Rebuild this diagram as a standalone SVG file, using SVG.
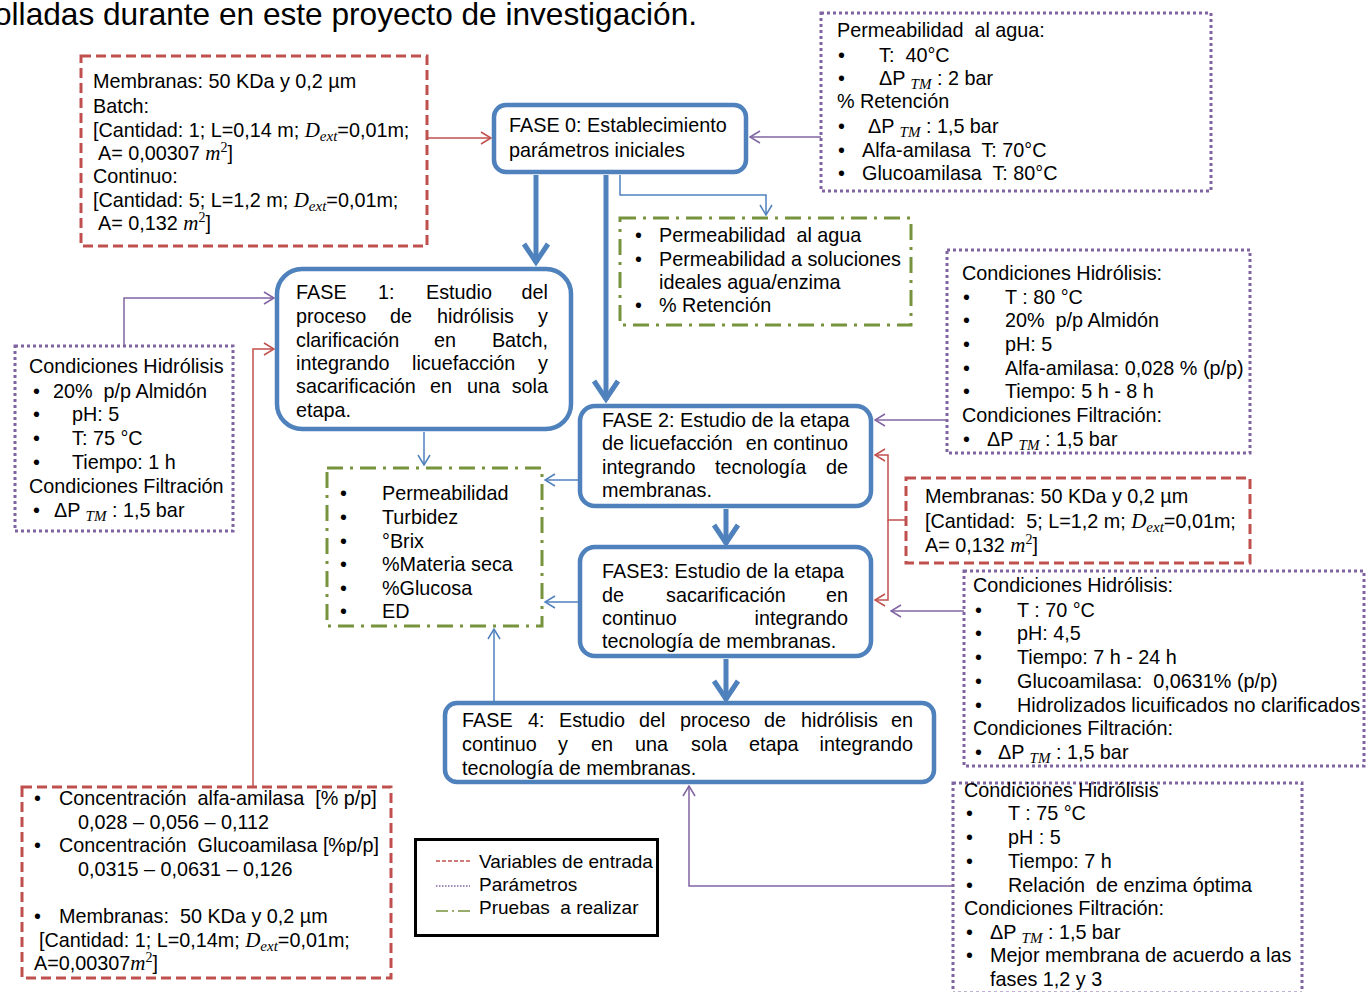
<svg xmlns="http://www.w3.org/2000/svg" width="1367" height="992" viewBox="0 0 1367 992">
<style>
text{font-family:"Liberation Sans",Arial,sans-serif;font-size:19.8px;fill:#000;white-space:pre}
.m{font-family:"Liberation Serif","Times New Roman",serif;font-style:italic;font-size:21px}
.s{font-size:15px}
.sup{font-family:"Liberation Serif","Times New Roman",serif;font-size:14px}
.title{font-size:32px}
.lg{font-size:19px}
.red{fill:#fff;stroke:#C0504D;stroke-width:3;stroke-dasharray:10 5}
.pur{fill:#fff;stroke:#8064A2;stroke-width:3;stroke-dasharray:3 3}
.grn{fill:#fff;stroke:#77933C;stroke-width:3;stroke-dasharray:16 7 3 7}
.phase{fill:#fff;stroke:#4F81BD;stroke-width:4.5}
.cr{fill:none;stroke:#C0504D;stroke-width:1.5}
.cp{fill:none;stroke:#8064A2;stroke-width:1.5}
.cb{fill:none;stroke:#4F81BD;stroke-width:1.5}
.ct{fill:none;stroke:#4F81BD;stroke-width:5}
.e{text-anchor:end}
</style>
<defs>
<marker id="aRed" viewBox="0 0 12 14" refX="11" refY="7" markerWidth="12" markerHeight="14" orient="auto" markerUnits="userSpaceOnUse"><path d="M1,1 L11,7 L1,13" fill="none" stroke="#C0504D" stroke-width="1.5"/></marker>
<marker id="aPur" viewBox="0 0 12 14" refX="11" refY="7" markerWidth="12" markerHeight="14" orient="auto" markerUnits="userSpaceOnUse"><path d="M1,1 L11,7 L1,13" fill="none" stroke="#8064A2" stroke-width="1.5"/></marker>
<marker id="aBlue" viewBox="0 0 12 14" refX="11" refY="7" markerWidth="12" markerHeight="14" orient="auto" markerUnits="userSpaceOnUse"><path d="M1,1 L11,7 L1,13" fill="none" stroke="#4F81BD" stroke-width="1.5"/></marker>
<marker id="aThick" viewBox="0 0 26 30" refX="22" refY="15" markerWidth="26" markerHeight="30" orient="auto" markerUnits="userSpaceOnUse"><path d="M3,3 L21,15 L3,27" fill="none" stroke="#4F81BD" stroke-width="5"/></marker>
</defs>
<rect x="0" y="0" width="1367" height="992" fill="#fff"/>

<text class="title" x="-6" y="25" textLength="703" lengthAdjust="spacingAndGlyphs">olladas durante en este proyecto de investigación.</text>

<g id="connectors">
<path class="cr" d="M428,138 H491" marker-end="url(#aRed)"/>
<path class="cp" d="M821,137 H750" marker-end="url(#aPur)"/>
<path class="ct" d="M536,175 V263" marker-end="url(#aThick)"/>
<path class="ct" d="M606,175 V400" marker-end="url(#aThick)"/>
<path class="ct" d="M726,509 V544" marker-end="url(#aThick)"/>
<path class="ct" d="M726,659 V700" marker-end="url(#aThick)"/>
<path class="cb" d="M620,175 V195 H766 V215" marker-end="url(#aBlue)"/>
<path class="cb" d="M424,432 V465" marker-end="url(#aBlue)"/>
<path class="cb" d="M579,480 H545" marker-end="url(#aBlue)"/>
<path class="cb" d="M579,602 H545" marker-end="url(#aBlue)"/>
<path class="cb" d="M494,702 V629" marker-end="url(#aBlue)"/>
<path class="cp" d="M124,346 V298 H274" marker-end="url(#aPur)"/>
<path class="cr" d="M253,786 V349 H274" marker-end="url(#aRed)"/>
<path class="cp" d="M946,420 H875" marker-end="url(#aPur)"/>
<path class="cr" d="M906,520 H888 V455 H875" marker-end="url(#aRed)"/>
<path class="cr" d="M888,520 V600 H875" marker-end="url(#aRed)"/>
<path class="cp" d="M964,611 H891" marker-end="url(#aPur)"/>
<path class="cp" d="M953,886 H689 V786" marker-end="url(#aPur)"/>
</g>

<g id="vars-membranas-top">
<rect class="red" x="81" y="56" width="346" height="190"/>
<text x="93" y="88">Membranas: 50 KDa y 0,2 µm</text>
<text x="93" y="113">Batch:</text>
<text x="93" y="137">[Cantidad: 1; L=0,14 m; <tspan class="m">D</tspan><tspan class="m s" dy="4">ext</tspan><tspan dy="-4">=0,01m;</tspan></text>
<text x="98" y="160">A= 0,00307 <tspan class="m">m</tspan><tspan class="sup" dy="-8">2</tspan><tspan dy="8">]</tspan></text>
<text x="93" y="183">Continuo:</text>
<text x="93" y="207">[Cantidad: 5; L=1,2 m; <tspan class="m">D</tspan><tspan class="m s" dy="4">ext</tspan><tspan dy="-4">=0,01m;</tspan></text>
<text x="98" y="230">A= 0,132 <tspan class="m">m</tspan><tspan class="sup" dy="-8">2</tspan><tspan dy="8">]</tspan></text>
</g>

<g id="fase0">
<rect class="phase" x="494" y="105" width="252" height="67" rx="12"/>
<text x="509" y="132">FASE 0: Establecimiento</text>
<text x="509" y="157">parámetros iniciales</text>
</g>

<g id="params-fase0">
<rect class="pur" x="821" y="13" width="390" height="178"/>
<text x="837" y="37">Permeabilidad  al agua:</text>
<text x="838" y="62">•</text><text x="879" y="62">T:  40°C</text>
<text x="838" y="85">•</text><text x="879" y="85">ΔP <tspan class="m s" dy="4">TM</tspan><tspan dy="-4"> : 2 bar</tspan></text>
<text x="837" y="108">% Retención</text>
<text x="838" y="133">•</text><text x="868" y="133">ΔP <tspan class="m s" dy="4">TM</tspan><tspan dy="-4"> : 1,5 bar</tspan></text>
<text x="838" y="157">•</text><text x="862" y="157">Alfa-amilasa  T: 70°C</text>
<text x="838" y="180">•</text><text x="862" y="180">Glucoamilasa  T: 80°C</text>
</g>

<g id="pruebas-fase0">
<rect class="grn" x="620" y="218" width="291" height="107"/>
<text x="635" y="242">•</text><text x="659" y="242">Permeabilidad  al agua</text>
<text x="635" y="266">•</text><text x="659" y="266">Permeabilidad a soluciones</text>
<text x="659" y="289">ideales agua/enzima</text>
<text x="635" y="312">•</text><text x="659" y="312">% Retención</text>
</g>

<g id="fase1">
<rect class="phase" x="277" y="269" width="294" height="160" rx="25"/>
<text x="296" y="299">FASE</text><text x="378" y="299">1:</text><text x="426" y="299">Estudio</text><text class="e" x="548" y="299">del</text>
<text x="296" y="323">proceso</text><text x="390" y="323">de</text><text x="437" y="323">hidrólisis</text><text class="e" x="548" y="323">y</text>
<text x="296" y="347">clarificación</text><text x="434" y="347">en</text><text class="e" x="548" y="347">Batch,</text>
<text x="296" y="370">integrando</text><text x="412" y="370">licuefacción</text><text class="e" x="548" y="370">y</text>
<text x="296" y="393">sacarificación</text><text x="430" y="393">en</text><text x="467" y="393">una</text><text class="e" x="548" y="393">sola</text>
<text x="296" y="417">etapa.</text>
</g>

<g id="params-fase1">
<rect class="pur" x="15" y="346" width="218" height="185"/>
<text x="29" y="373">Condiciones Hidrólisis</text>
<text x="33" y="398">•</text><text x="53" y="398">20%  p/p Almidón</text>
<text x="33" y="421">•</text><text x="72" y="421">pH: 5</text>
<text x="33" y="445">•</text><text x="72" y="445">T: 75 °C</text>
<text x="33" y="469">•</text><text x="72" y="469">Tiempo: 1 h</text>
<text x="29" y="493">Condiciones Filtración</text>
<text x="33" y="517">•</text><text x="54" y="517">ΔP <tspan class="m s" dy="4">TM</tspan><tspan dy="-4"> : 1,5 bar</tspan></text>
</g>

<g id="pruebas-fases">
<rect class="grn" x="327" y="468" width="215" height="158"/>
<text x="340" y="500">•</text><text x="382" y="500">Permeabilidad</text>
<text x="340" y="524">•</text><text x="382" y="524">Turbidez</text>
<text x="340" y="548">•</text><text x="382" y="548">°Brix</text>
<text x="340" y="571">•</text><text x="382" y="571">%Materia seca</text>
<text x="340" y="595">•</text><text x="382" y="595">%Glucosa</text>
<text x="340" y="618">•</text><text x="382" y="618">ED</text>
</g>

<g id="fase2">
<rect class="phase" x="580" y="406" width="291" height="100" rx="15"/>
<text x="602" y="427">FASE 2: Estudio de la etapa</text>
<text x="602" y="450">de licuefacción</text><text class="e" x="848" y="450">en continuo</text>
<text x="602" y="474">integrando</text><text x="715" y="474">tecnología</text><text class="e" x="848" y="474">de</text>
<text x="602" y="497">membranas.</text>
</g>

<g id="fase3">
<rect class="phase" x="580" y="547" width="291" height="109" rx="15"/>
<text x="602" y="578">FASE3: Estudio de la etapa</text>
<text x="602" y="602">de</text><text x="666" y="602">sacarificación</text><text class="e" x="848" y="602">en</text>
<text x="602" y="625">continuo</text><text class="e" x="848" y="625">integrando</text>
<text x="602" y="648">tecnología de membranas.</text>
</g>

<g id="fase4">
<rect class="phase" x="445" y="703" width="489" height="79" rx="12"/>
<text x="462" y="727">FASE</text><text x="528" y="727">4:</text><text x="559" y="727">Estudio</text><text x="639" y="727">del</text><text x="680" y="727">proceso</text><text x="764" y="727">de</text><text x="801" y="727">hidrólisis</text><text class="e" x="913" y="727">en</text>
<text x="462" y="751">continuo</text><text x="558" y="751">y</text><text x="591" y="751">en</text><text x="635" y="751">una</text><text x="691" y="751">sola</text><text x="749" y="751">etapa</text><text class="e" x="913" y="751">integrando</text>
<text x="462" y="775">tecnología de membranas.</text>
</g>

<g id="params-fase2">
<rect class="pur" x="947" y="250" width="303" height="203"/>
<text x="962" y="280">Condiciones Hidrólisis:</text>
<text x="963" y="304">•</text><text x="1005" y="304">T : 80 °C</text>
<text x="963" y="327">•</text><text x="1005" y="327">20%  p/p Almidón</text>
<text x="963" y="351">•</text><text x="1005" y="351">pH: 5</text>
<text x="963" y="375">•</text><text x="1005" y="375">Alfa-amilasa: 0,028 % (p/p)</text>
<text x="963" y="398">•</text><text x="1005" y="398">Tiempo: 5 h - 8 h</text>
<text x="962" y="422">Condiciones Filtración:</text>
<text x="963" y="446">•</text><text x="987" y="446">ΔP <tspan class="m s" dy="4">TM</tspan><tspan dy="-4"> : 1,5 bar</tspan></text>
</g>

<g id="vars-membranas-continuo">
<rect class="red" x="906" y="478" width="344" height="85"/>
<text x="925" y="503">Membranas: 50 KDa y 0,2 µm</text>
<text x="925" y="528">[Cantidad:  5; L=1,2 m; <tspan class="m">D</tspan><tspan class="m s" dy="4">ext</tspan><tspan dy="-4">=0,01m;</tspan></text>
<text x="925" y="552">A= 0,132 <tspan class="m">m</tspan><tspan class="sup" dy="-8">2</tspan><tspan dy="8">]</tspan></text>
</g>

<g id="params-fase3">
<rect class="pur" x="964" y="571" width="400" height="195"/>
<text x="973" y="592">Condiciones Hidrólisis:</text>
<text x="975" y="617">•</text><text x="1017" y="617">T : 70 °C</text>
<text x="975" y="640">•</text><text x="1017" y="640">pH: 4,5</text>
<text x="975" y="664">•</text><text x="1017" y="664">Tiempo: 7 h - 24 h</text>
<text x="975" y="688">•</text><text x="1017" y="688">Glucoamilasa:  0,0631% (p/p)</text>
<text x="975" y="712">•</text><text x="1017" y="712">Hidrolizados licuificados no clarificados</text>
<text x="973" y="735">Condiciones Filtración:</text>
<text x="975" y="759">•</text><text x="998" y="759">ΔP <tspan class="m s" dy="4">TM</tspan><tspan dy="-4"> : 1,5 bar</tspan></text>
</g>

<g id="params-fase4">
<rect class="pur" x="953" y="783" width="349" height="210"/>
<text x="964" y="797">Condiciones Hidrólisis</text>
<text x="966" y="820">•</text><text x="1008" y="820">T : 75 °C</text>
<text x="966" y="844">•</text><text x="1008" y="844">pH : 5</text>
<text x="966" y="868">•</text><text x="1008" y="868">Tiempo: 7 h</text>
<text x="966" y="892">•</text><text x="1008" y="892">Relación  de enzima óptima</text>
<text x="964" y="915">Condiciones Filtración:</text>
<text x="966" y="939">•</text><text x="990" y="939">ΔP <tspan class="m s" dy="4">TM</tspan><tspan dy="-4"> : 1,5 bar</tspan></text>
<text x="966" y="962">•</text><text x="990" y="962">Mejor membrana de acuerdo a las</text>
<text x="990" y="986">fases 1,2 y 3</text>
</g>

<g id="vars-enzimas">
<rect class="red" x="22" y="787" width="369" height="191"/>
<text x="34" y="805">•</text><text x="59" y="805">Concentración  alfa-amilasa  [% p/p]</text>
<text x="78" y="829">0,028 – 0,056 – 0,112</text>
<text x="34" y="852">•</text><text x="59" y="852">Concentración  Glucoamilasa [%p/p]</text>
<text x="78" y="876">0,0315 – 0,0631 – 0,126</text>
<text x="34" y="923">•</text><text x="59" y="923">Membranas:  50 KDa y 0,2 µm</text>
<text x="39" y="947">[Cantidad: 1; L=0,14m; <tspan class="m">D</tspan><tspan class="m s" dy="4">ext</tspan><tspan dy="-4">=0,01m;</tspan></text>
<text x="34" y="970">A=0,00307<tspan class="m">m</tspan><tspan class="sup" dy="-8">2</tspan><tspan dy="8">]</tspan></text>
</g>

<g id="legend">
<rect x="415.5" y="839.5" width="242" height="96" fill="#fff" stroke="#000" stroke-width="3"/>
<line x1="436" y1="861" x2="470" y2="861" stroke="#C0504D" stroke-width="1.5" stroke-dasharray="4 2"/>
<line x1="436" y1="886" x2="470" y2="886" stroke="#8064A2" stroke-width="1.5" stroke-dasharray="1.5 1.5"/>
<line x1="436" y1="911" x2="470" y2="911" stroke="#77933C" stroke-width="1.5" stroke-dasharray="12 4 2 4"/>
<text class="lg" x="479" y="868">Variables de entrada</text>
<text class="lg" x="479" y="891">Parámetros</text>
<text class="lg" x="479" y="914">Pruebas  a realizar</text>
</g>
</svg>
